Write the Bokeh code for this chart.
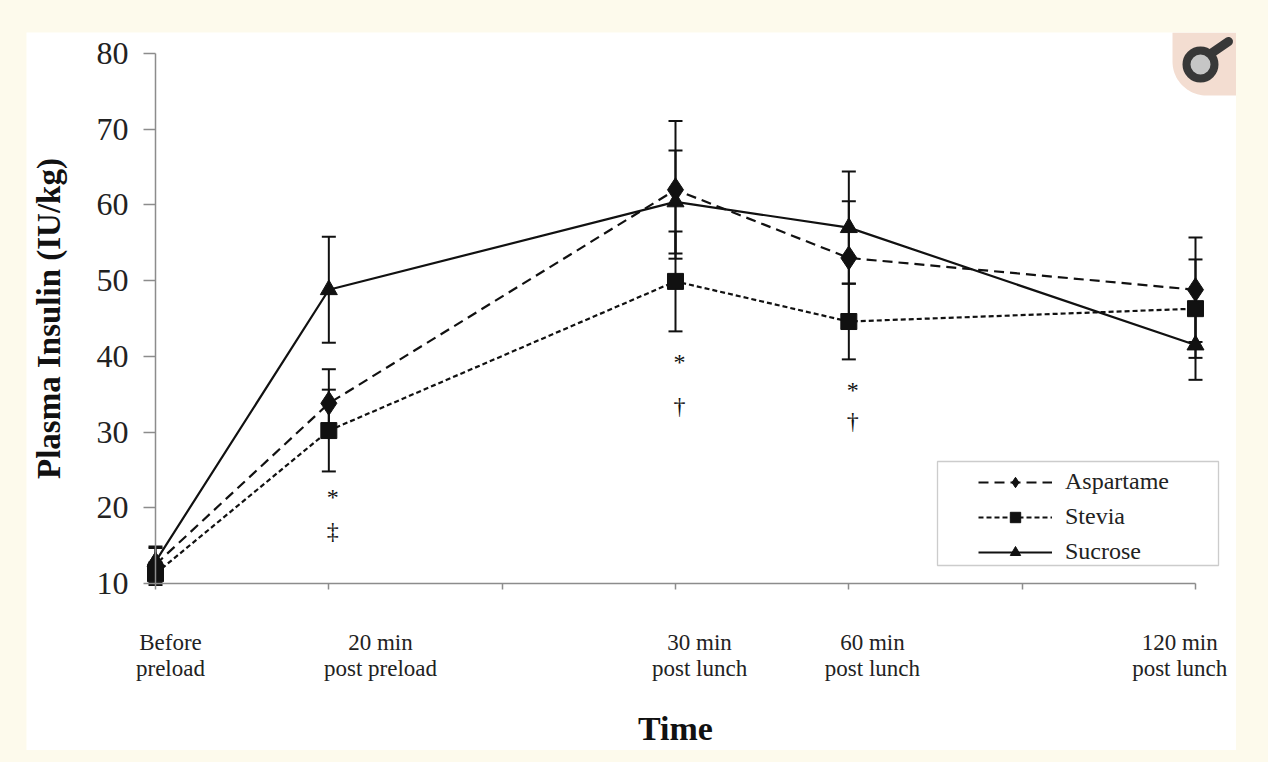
import numpy as np
from bokeh.plotting import figure
from bokeh.models import (Range1d, FixedTicker, LinearAxis, ColumnDataSource, Whisker,
                          TeeHead, Legend, LegendItem, BoxAnnotation)
from bokeh.core.properties import value
from bokeh.embed import file_html
from bokeh.resources import INLINE

# ---------------- data ----------------
time_labels = ["Before\npreload", "20 min\npost preload", "30 min\npost lunch",
               "60 min\npost lunch", "120 min\npost lunch"]
time_pos = [0, 1, 3, 4, 6]

aspartame = [12.5, 33.8, 62.0, 53.0, 48.8]
aspartame_err = [2.4, 4.5, 9.1, 7.5, 6.9]
stevia = [11.3, 30.2, 49.9, 44.6, 46.3]
stevia_err = [1.5, 5.4, 6.6, 5.0, 6.5]
sucrose = [12.9, 48.8, 60.4, 57.0, 41.5]
sucrose_err = [1.8, 7.0, 6.8, 7.4, 4.6]

sig_pos = [1, 1, 3, 3, 4, 4]
sig_y = [21.4, 17.0, 39.2, 33.5, 35.6, 31.5]
sig_text = ["*", "\u2021", "*", "\u2020", "*", "\u2020"]

y_ticks = [10, 20, 30, 40, 50, 60, 70, 80]
x_tick_marks = [0, 1, 2, 3, 4, 5, 6]

# ---------------- layout / style ----------------
W, H = 1210, 718
X0_PX, X_UNIT = 129.0, 173.333   # canvas px of x=0, px per unit
Y10_PX, Y_UNIT = 551.0, 7.5714   # canvas px (from top) of y=10, px per unit
label_shift = [0.0865, 0.298, 0.139, 0.136, -0.091]

def px_x(cx):
    return (cx - X0_PX) / X_UNIT

def px_y(cy):
    return 10 + (Y10_PX - cy) / Y_UNIT

FONT = value("Liberation Serif")
INK = "#111111"
TXT = "#222222"
AXC = "#8c8c8c"

p = figure(width=W, height=H, output_backend="svg", toolbar_location=None,
           x_range=Range1d(px_x(0), px_x(W)), y_range=Range1d(px_y(H), px_y(0)),
           x_axis_type=None, y_axis_type=None,
           min_border_left=0, min_border_right=0, min_border_top=0, min_border_bottom=0,
           background_fill_color="white", border_fill_color="white",
           outline_line_color=None, margin=(32, 0, 0, 26))
p.grid.visible = False

# y axis
yax = LinearAxis(fixed_location=0, bounds=(10, 80), ticker=FixedTicker(ticks=y_ticks))
yax.axis_line_color = AXC
yax.axis_line_width = 1.5
yax.major_tick_line_color = AXC
yax.major_tick_line_width = 1.5
yax.major_tick_out = 12
yax.major_tick_in = 0
yax.minor_tick_line_color = None
yax.major_label_standoff = 15
yax.major_label_text_font = "Liberation Serif"
yax.major_label_text_font_size = "32px"
yax.major_label_text_color = TXT
yax.axis_label = "Plasma Insulin (IU/kg)"
yax.axis_label_text_font = "Liberation Serif"
yax.axis_label_text_font_style = "bold"
yax.axis_label_text_font_size = "33px"
yax.axis_label_text_color = INK
yax.axis_label_standoff = 27
p.add_layout(yax, "left")

# x axis: tick marks
xax = LinearAxis(fixed_location=10, bounds=(0, 6), ticker=FixedTicker(ticks=x_tick_marks))
xax.axis_line_color = AXC
xax.axis_line_width = 1.5
xax.major_tick_line_color = AXC
xax.major_tick_line_width = 1.5
xax.major_tick_out = 6
xax.major_tick_in = 0
xax.minor_tick_line_color = None
xax.major_label_overrides = {t: "" for t in x_tick_marks}
p.add_layout(xax, "below")

# x axis: category labels
label_pos = [tp + s for tp, s in zip(time_pos, label_shift)]
xlab = LinearAxis(fixed_location=10, bounds=(0, 6), ticker=FixedTicker(ticks=label_pos))
xlab.axis_line_color = None
xlab.major_tick_line_color = None
xlab.minor_tick_line_color = None
xlab.major_label_overrides = {lp: lab for lp, lab in zip(label_pos, time_labels)}
xlab.major_label_standoff = 40
xlab.major_label_text_font = "Liberation Serif"
xlab.major_label_text_font_size = "23px"
xlab.major_label_text_line_height = 1.05
xlab.major_label_text_color = TXT
xlab.axis_label = "Time"
xlab.axis_label_text_font = "Liberation Serif"
xlab.axis_label_text_font_style = "bold"
xlab.axis_label_text_font_size = "34px"
xlab.axis_label_text_color = INK
xlab.axis_label_standoff = 26
p.add_layout(xlab, "below")

# error bars
def whisk(vals, errs):
    src = ColumnDataSource(dict(x=time_pos,
                                upper=[v + e for v, e in zip(vals, errs)],
                                lower=[v - e for v, e in zip(vals, errs)]))
    w = Whisker(base="x", upper="upper", lower="lower", source=src, dimension="height",
                line_color=INK, line_width=2,
                upper_head=TeeHead(size=14, line_color=INK, line_width=2),
                lower_head=TeeHead(size=14, line_color=INK, line_width=2))
    p.add_layout(w)

whisk(aspartame, aspartame_err)
whisk(stevia, stevia_err)
whisk(sucrose, sucrose_err)

# series
la = p.line(time_pos, aspartame, line_color=INK, line_width=2.2, line_dash="10 6")
ma = p.scatter(time_pos, aspartame, marker="diamond", size=24, color=INK)
ls = p.line(time_pos, stevia, line_color=INK, line_width=2.2, line_dash="5 3")
ms = p.scatter(time_pos, stevia, marker="square", size=16, color=INK)
lu = p.line(time_pos, sucrose, line_color=INK, line_width=2.2)
mu = p.scatter(time_pos, sucrose, marker="triangle", size=17, color=INK)

# significance symbols
p.text(x=sig_pos, y=sig_y, text=sig_text, text_font=FONT, text_font_size=value("24px"),
       text_color=INK, text_align="center", text_baseline="middle", x_offset=4)

# legend frame + legend
box = BoxAnnotation(left=px_x(911), right=px_x(1192), top=px_y(429), bottom=px_y(533),
                    fill_color="white", fill_alpha=1.0, line_color="#555555", line_width=1.3)
p.add_layout(box)
legend = Legend(items=[LegendItem(label="Aspartame", renderers=[la, ma]),
                       LegendItem(label="Stevia", renderers=[ls, ms]),
                       LegendItem(label="Sucrose", renderers=[lu, mu])],
                location=(952, 185), border_line_color=None, background_fill_alpha=0,
                label_text_font="Liberation Serif", label_text_font_size="24px",
                label_text_color=TXT, glyph_width=74, glyph_height=26, label_height=26,
                spacing=8, padding=5, margin=0, label_standoff=13)
p.add_layout(legend)

# corner logo
r = 34.0
cx, cy = 1146 + r, 63 - r
t = np.linspace(0, np.pi / 2, 24)
lx = [1146, 1210, 1210] + list(cx - r * np.sin(t)) + [1146]
ly = [0, 0, 63] + list(cy + r * np.cos(t)) + [0]
p.patch([px_x(v) for v in lx], [px_y(v) for v in ly], fill_color="#f3ddd1", line_color=None)
p.segment(x0=[px_x(1186)], y0=[px_y(20)], x1=[px_x(1202)], y1=[px_y(9)],
          line_color="#383838", line_width=9, line_cap="round")
p.scatter([px_x(1174)], [px_y(32)], marker="circle", size=28, fill_color="#c6c6c6",
          line_color="#383838", line_width=8)

html = file_html(p, INLINE, title="Plasma Insulin")
html = html.replace("</head>", "<style>html, body {background-color: #fdfaec;}</style></head>", 1)
open("out.html", "w").write(html)
